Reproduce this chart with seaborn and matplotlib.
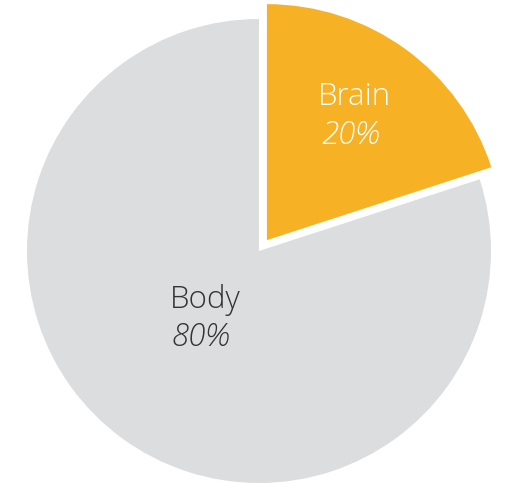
import matplotlib
matplotlib.use("Agg")
import matplotlib.pyplot as plt
import seaborn as sns

labels = ["Brain", "Body"]
values = [20, 80]
colors = ["#F7B124", "#DCDDDF"]
text_colors = ["white", "#333333"]
explode = [0.058, 0.0]
radii = [1.017, 1.0]

sns.set_theme(style="white")
plt.rcParams['font.family'] = ['Open Sans', 'DejaVu Sans']

fig = plt.figure(figsize=(5.11, 4.85), dpi=100)
ax = fig.add_axes([0, 0, 1, 1])
wedges, _ = ax.pie(values, colors=colors, explode=explode, startangle=90,
                   counterclock=False, radius=1.0,
                   wedgeprops=dict(linewidth=0))
for w, r in zip(wedges, radii):
    w.set_radius(r)
ax.set_xlim(-259 / 232, (511 - 259) / 232)
ax.set_ylim(-(485 - 252) / 232, 252 / 232)
ax.set_aspect('auto')
ax.axis('off')

label_pos = [(0.410, 0.668), (-0.230, -0.207)]
pct_pos = [(0.395, 0.500), (-0.250, -0.370)]
for lab, v, c, lp, pp in zip(labels, values, text_colors, label_pos, pct_pos):
    ax.text(lp[0], lp[1], lab, color=c, fontsize=22.5, fontweight=300,
            ha='center', va='center')
    ax.text(pp[0], pp[1], f"{v}%", color=c, fontsize=22.5, fontweight=300,
            style='italic', ha='center', va='center')

fig.savefig("out.png", dpi=100)
